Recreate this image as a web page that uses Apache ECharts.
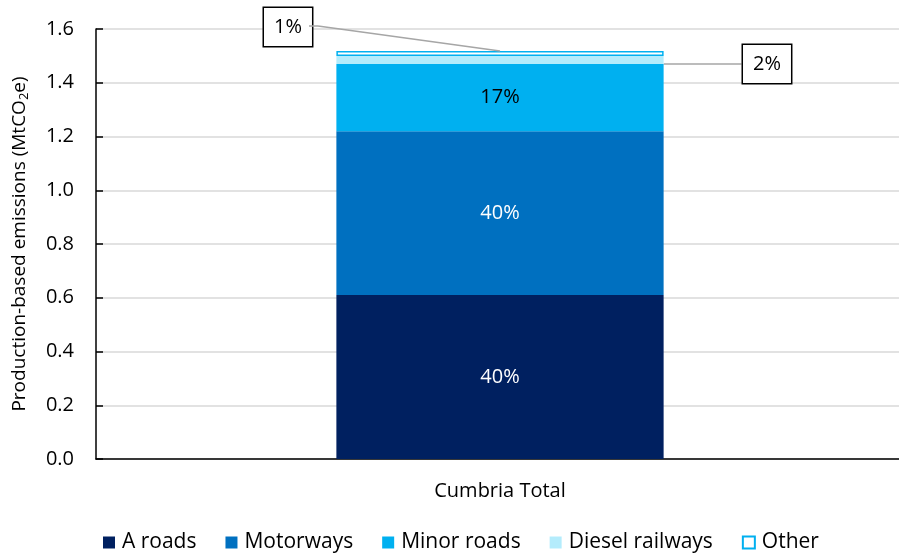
<!DOCTYPE html>
<html><head><meta charset="utf-8">
<script src="https://cdn.jsdelivr.net/npm/echarts@6/dist/echarts.min.js"></script>
<style>html,body{margin:0;padding:0;background:#fff}#c{width:899px;height:560px}</style>
</head><body><div id="c"></div>
<script>
const categories = ['Cumbria Total'];
const seriesNames = ['A roads', 'Motorways', 'Minor roads', 'Diesel railways', 'Other'];
const aRoads = [0.61];
const motorways = [0.61];
const minorRoads = [0.25];
const dieselRailways = [0.03];
const other = [0.018];
const pctLabels = ['40%', '40%', '17%', '2%', '1%'];
const yTicks = {min: 0, max: 1.6, interval: 0.2};

const FONT = 'Open Sans';
const FS = 20;
const colors = ['#002060', '#0070C0', '#00B0F0', '#B4ECFC', '#FFFFFF'];
const values = [aRoads, motorways, minorRoads, dieselRailways, other];
const totalTop = aRoads[0] + motorways[0] + minorRoads[0] + dieselRailways[0] + other[0];

const series = seriesNames.map((name, i) => {
  const s = {
    name, type: 'bar', stack: 'total', barWidth: '40.5%',
    data: values[i],
    itemStyle: {color: colors[i]},
    label: {show: true, position: 'inside', formatter: pctLabels[i],
      color: i < 2 ? '#fff' : '#000', fontFamily: FONT, fontSize: FS}
  };
  if (i === 4) {
    s.itemStyle = {color: '#fff', borderColor: '#00B0F0', borderWidth: 1.5};
  }
  if (i >= 3) {
    s.label = {show: true, formatter: pctLabels[i], color: '#000', fontFamily: FONT, fontSize: FS,
      lineHeight: 20, backgroundColor: '#fff', borderColor: '#000', borderWidth: 1.5,
      padding: [9, 10, 9, 10]};
    s.labelLayout = i === 4 ? {x: 264, y: 8} : {x: 743, y: 45};
    s.labelLine = {show: i === 3, lineStyle: {color: '#a6a6a6', width: 1.5}};
  }
  if (i === 4) {
    s.markLine = {
      silent: true, symbol: 'none', animation: false,
      lineStyle: {color: '#a6a6a6', width: 1.5, type: 'solid'},
      label: {show: false},
      data: [[{coord: [0, totalTop]}, {x: 318, y: 26}], [{x: 309, y: 26}, {x: 318, y: 26}]]
    };
  }
  return s;
});

const chart = echarts.init(document.getElementById('c'));
chart.setOption({
  animation: false,
  textStyle: {fontFamily: FONT},
  grid: {left: 96, right: -5, top: 29, bottom: 101, outerBoundsMode: 'none', containLabel: false},
  legend: {
    bottom: 2, left: 98, itemWidth: 12, itemHeight: 12, itemGap: 29,
    icon: 'rect',
    textStyle: {fontFamily: FONT, fontSize: 21, color: '#000', padding: [0, 0, 0, 2]},
    data: seriesNames.map((n, i) => i === 4 ? {name: n, itemStyle: {color: '#fff', borderColor: '#00B0F0', borderWidth: 2}} : {name: n})
  },
  xAxis: {
    type: 'category', data: categories,
    axisLine: {lineStyle: {color: '#000', width: 1.5}},
    axisTick: {show: false},
    axisLabel: {color: '#000', fontSize: FS, fontFamily: FONT, margin: 22}
  },
  yAxis: {
    type: 'value', min: yTicks.min, max: yTicks.max, interval: yTicks.interval,
    name: '{a|Production-based emissions (MtCO}{s|2}{a|e)}',
    nameLocation: 'middle', nameGap: 65, nameRotate: 90,
    nameTextStyle: {rich: {
      a: {fontSize: 19, fontFamily: FONT, color: '#000'},
      s: {fontSize: 13, fontFamily: FONT, color: '#000', padding: [10, 0, 0, 0]}
    }},
    axisLine: {show: true, lineStyle: {color: '#000', width: 1.5}},
    axisTick: {show: true, inside: true, length: 7, lineStyle: {color: '#000', width: 1.5}},
    axisLabel: {color: '#000', fontSize: FS, fontFamily: FONT, margin: 22,
      formatter: v => v.toFixed(1)},
    splitLine: {lineStyle: {color: '#d9d9d9', width: 1.5}}
  },
  series
});
</script></body></html>
